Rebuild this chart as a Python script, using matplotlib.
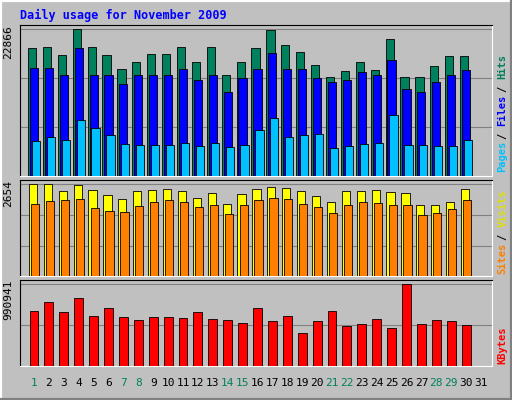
import matplotlib.pyplot as plt

days = list(range(1, 31))
hits = [19900, 20060, 18830, 22866, 20060, 18830, 16650, 17740, 18980, 18980,
        20070, 17740, 20070, 15720, 17740, 19920, 22710, 20380, 19290, 17270,
        15400, 16340, 17740, 16490, 21310, 15400, 15400, 17120, 18670, 18670]
files = [16800, 16800, 15720, 19920, 15720, 15720, 14310, 15720, 15720, 15720,
         16650, 14940, 15720, 13070, 15250, 16650, 19140, 16650, 16650, 15250,
         14630, 14940, 16180, 15720, 18050, 13540, 13070, 14630, 15720, 16490]
pages = [5450, 6070, 5600, 8710, 7470, 6380, 4980, 4820, 4820, 4820,
         5130, 4670, 5130, 4510, 4820, 7160, 9020, 6070, 6380, 6540,
         4360, 4670, 4980, 5130, 9490, 4820, 4820, 4670, 4670, 5600]
visits = [2654, 2654, 2452, 2625, 2481, 2337, 2221, 2452, 2481, 2510,
          2452, 2250, 2394, 2077, 2366, 2510, 2567, 2539, 2452, 2308,
          2135, 2452, 2452, 2481, 2423, 2394, 2048, 2048, 2135, 2510]
sites = [2077, 2164, 2193, 2221, 1962, 1875, 1846, 2019, 2135, 2193,
         2135, 1990, 2048, 1789, 2048, 2193, 2250, 2221, 2077, 1990,
         1817, 2048, 2135, 2106, 2048, 2048, 1760, 1817, 1933, 2193]
kbytes = [664000, 773000, 652000, 821000, 604000, 700000, 592000, 556000, 592000, 592000,
          580000, 652000, 568000, 556000, 520000, 700000, 544000, 604000, 398000, 544000,
          664000, 483000, 507000, 568000, 459000, 990941, 507000, 556000, 544000, 495000]
weekend = [1, 7, 8, 14, 15, 21, 22, 28, 29]

GRAY = "#C0C0C0"
MONO = "DejaVu Sans Mono"
fig = plt.figure(figsize=(5.12, 4.0), dpi=100, facecolor=GRAY)
W, H = 512, 400


def panel(top, bottom):
    ax = fig.add_axes([20 / W, 1 - bottom / H, 472 / W, (bottom - top) / H])
    ax.set_facecolor(GRAY)
    ax.set_xlim(0.06, 31.74)
    ax.set_xticks([])
    ax.set_yticks([])
    for s in ax.spines.values():
        s.set_color("black")
    ax.spines["right"].set_color("white")
    ax.spines["bottom"].set_color("white")
    return ax


def bars(ax, vals, off, color, w=0.55):
    ax.bar([d + off for d in days], vals, width=w, color=color,
           edgecolor="black", linewidth=0.6, zorder=3)


def side(ax, y_px, text, color, h_px):
    ax.text(1.022, y_px / h_px, text, color=color, transform=ax.transAxes, rotation=90,
            ha="center", va="bottom", fontsize=7.5, family=MONO, weight="bold")


ax1 = panel(25, 176)
ax1.set_ylim(0, 22866 * 151 / 147)
for f in (1 / 3, 2 / 3, 1.0):
    ax1.axhline(22866 * f, color="#808080", lw=0.8, zorder=1)
bars(ax1, hits, -0.13, "#00805C")
bars(ax1, files, 0.0, "#0000FF")
bars(ax1, pages, 0.13, "#00C0FF")
ax1.text(-0.025, 1, "22866", transform=ax1.transAxes, rotation=90, ha="center",
         va="top", fontsize=8, family=MONO)
side(ax1, 4, "Pages", "#00C0FF", 151)
side(ax1, 37, "/", "black", 151)
side(ax1, 50, "Files", "#0000FF", 151)
side(ax1, 84, "/", "black", 151)
side(ax1, 97, "Hits", "#00805C", 151)

ax2 = panel(180, 276)
ax2.set_ylim(0, 2654 * 96 / 92)
for f in (0.33, 0.66, 1.0):
    ax2.axhline(2654 * f, color="#808080", lw=0.8, zorder=1)
bars(ax2, visits, -0.07, "#FFFF00")
bars(ax2, sites, 0.07, "#FF8000")
ax2.text(-0.025, 1, "2654", transform=ax2.transAxes, rotation=90, ha="center",
         va="top", fontsize=8, family=MONO)
side(ax2, 2, "Sites", "#FF8000", 96)
side(ax2, 36, "/", "black", 96)
side(ax2, 49, "Visits", "#E0E000", 96)

ax3 = panel(280, 366)
ax3.set_ylim(0, 990941 * 86 / 82)
for f in (0.5, 1.0):
    ax3.axhline(990941 * f, color="#808080", lw=0.8, zorder=1)
bars(ax3, kbytes, 0.0, "#FF0000", w=0.6)
ax3.text(-0.025, 1, "990941", transform=ax3.transAxes, rotation=90, ha="center",
         va="top", fontsize=8, family=MONO)
side(ax3, 2, "KBytes", "#FF0000", 86)

for d in range(1, 32):
    ax3.text(d, -0.2, str(d), transform=ax3.get_xaxis_transform(), ha="center",
             va="center", fontsize=8, family=MONO,
             color="#00805C" if d in weekend else "black")

fig.text(20 / W, 1 - 15 / H, "Daily usage for November 2009", color="#0000FF",
         fontsize=8.5, weight="bold", family=MONO, va="center")

# 3D border
fig.add_artist(plt.Line2D([0, 0, 1], [0, 1, 1], color="white", lw=3, transform=fig.transFigure))
fig.add_artist(plt.Line2D([0, 1, 1], [0, 0, 1], color="#808080", lw=3, transform=fig.transFigure))

fig.savefig("out.png", dpi=100, facecolor=GRAY)
